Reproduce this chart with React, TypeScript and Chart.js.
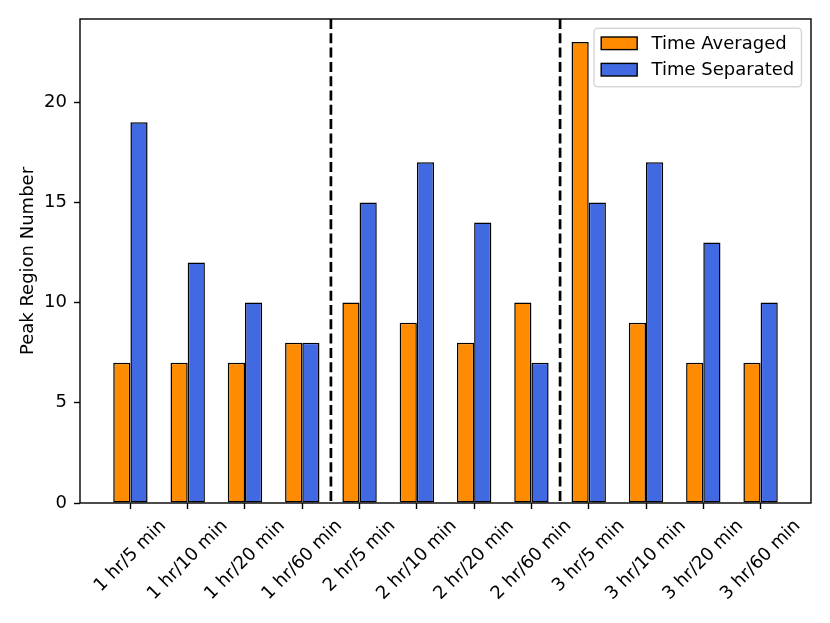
import React, { useEffect, useRef } from "react";
import { Chart, registerables } from "chart.js";

Chart.register(...registerables);

const categories = [
  "1 hr/5 min",
  "1 hr/10 min",
  "1 hr/20 min",
  "1 hr/60 min",
  "2 hr/5 min",
  "2 hr/10 min",
  "2 hr/20 min",
  "2 hr/60 min",
  "3 hr/5 min",
  "3 hr/10 min",
  "3 hr/20 min",
  "3 hr/60 min",
];
const timeAveraged = [7, 7, 7, 8, 10, 9, 8, 10, 23, 9, 7, 7];
const timeSeparated = [19, 12, 10, 8, 15, 17, 14, 7, 15, 17, 13, 10];
const yTickValues = [0, 5, 10, 15, 20];
const groupDividers = [3.5, 7.5];
const seriesNames = ["Time Averaged", "Time Separated"];
const seriesColors = ["#ff8c00", "#4169e1"];
const yTitle = "Peak Region Number";

const FONT_FAMILY = '"DejaVu Sans", sans-serif';
const FONT_SIZE = 18;

export default function App() {
  const canvasRef = useRef<HTMLCanvasElement | null>(null);

  useEffect(() => {
    const canvas = canvasRef.current;
    if (!canvas) return;

    const n = categories.length;
    const barSpan = 0.3;
    const dataMin = -barSpan;
    const dataMax = n - 1 + barSpan;
    const margin = (dataMax - dataMin) * 0.05;
    const yMax = Math.max(...timeAveraged, ...timeSeparated) * 1.05;

    const decorPlugin = {
      id: "decor",
      afterDatasetsDraw(chart: any) {
        const { ctx, chartArea, scales } = chart;
        const xs = scales.x;
        ctx.save();
        // dashed dividers
        ctx.strokeStyle = "#000";
        ctx.lineWidth = 2.7;
        ctx.setLineDash([10, 4.3]);
        for (const d of groupDividers) {
          const px = xs.getPixelForValue(d);
          ctx.beginPath();
          ctx.moveTo(px, chartArea.top);
          ctx.lineTo(px, chartArea.bottom);
          ctx.stroke();
        }
        ctx.setLineDash([]);
        // frame
        ctx.lineWidth = 1.4;
        ctx.strokeRect(
          chartArea.left,
          chartArea.top,
          chartArea.right - chartArea.left,
          chartArea.bottom - chartArea.top
        );

        // x tick labels (rotated 45°, centred on tick)
        ctx.font = `${FONT_SIZE}px ${FONT_FAMILY}`;
        ctx.fillStyle = "#000";
        ctx.textAlign = "center";
        ctx.textBaseline = "middle";
        const h = FONT_SIZE * 1.164;
        categories.forEach((lab, i) => {
          const px = xs.getPixelForValue(i);
          const w = ctx.measureText(lab).width;
          const cy = chartArea.bottom + 6.3 + 6.3 + ((w + h) * Math.SQRT1_2) / 2;
          ctx.save();
          ctx.translate(px, cy);
          ctx.rotate(-Math.PI / 4);
          ctx.fillText(lab, 0, 0);
          ctx.restore();
        });

        // legend
        const pad = 0.4 * FONT_SIZE;
        const handleLen = 2 * FONT_SIZE;
        const handleH = 0.7 * FONT_SIZE;
        const textPad = 0.8 * FONT_SIZE;
        const maxW = Math.max(...seriesNames.map((s) => ctx.measureText(s).width));
        const boxW = pad + handleLen + textPad + maxW + pad;
        const boxH = 58.4;
        const boxRight = chartArea.right - 9.5;
        const boxTop = chartArea.top + 9.3;
        const boxLeft = boxRight - boxW;
        ctx.beginPath();
        (ctx as any).roundRect(boxLeft, boxTop, boxW, boxH, 3.6);
        ctx.fillStyle = "rgba(255,255,255,0.8)";
        ctx.fill();
        ctx.strokeStyle = "rgba(204,204,204,0.8)";
        ctx.lineWidth = 1.4;
        ctx.stroke();
        const rowCenters = [boxTop + 15, boxTop + 41.4];
        seriesNames.forEach((name, i) => {
          const cy = rowCenters[i];
          const hx = boxLeft + pad;
          ctx.fillStyle = seriesColors[i];
          ctx.fillRect(hx, cy - handleH / 2, handleLen, handleH);
          ctx.strokeStyle = "#000";
          ctx.lineWidth = 1.4;
          ctx.strokeRect(hx, cy - handleH / 2, handleLen, handleH);
          ctx.fillStyle = "#000";
          ctx.textAlign = "left";
          ctx.textBaseline = "middle";
          ctx.fillText(name, hx + handleLen + textPad, cy + 1);
        });
        ctx.restore();
      },
    };

    const chart = new Chart(canvas, {
      type: "bar",
      data: {
        datasets: [
          {
            label: seriesNames[0],
            data: timeAveraged.map((v, i) => ({ x: i, y: v })),
            backgroundColor: seriesColors[0],
            borderColor: "#000",
            borderWidth: 1.5,
            borderSkipped: false,
          },
          {
            label: seriesNames[1],
            data: timeSeparated.map((v, i) => ({ x: i, y: v })),
            backgroundColor: seriesColors[1],
            borderColor: "#000",
            borderWidth: 1.5,
            borderSkipped: false,
          },
        ],
      },
      options: {
        responsive: false,
        animation: false,
        devicePixelRatio: 1,
        barPercentage: 1.0,
        categoryPercentage: 2 * barSpan,
        layout: { padding: { left: 0, right: 19, top: 19, bottom: 0 } },
        plugins: {
          legend: { display: false },
          tooltip: { enabled: false },
        },
        font: { family: FONT_FAMILY, size: FONT_SIZE },
        scales: {
          x: {
            type: "linear",
            min: dataMin - margin,
            max: dataMax + margin,
            offset: false,
            grid: {
              offset: false,
              drawOnChartArea: false,
              drawTicks: true,
              tickLength: 6,
              tickWidth: 1.4,
              tickColor: "#000",
            },
            border: { display: false },
            ticks: {
              color: "rgba(0,0,0,0)",
              maxRotation: 0,
              autoSkip: false,
              font: { family: FONT_FAMILY, size: FONT_SIZE },
              callback: (v: any) => categories[v as number] ?? "",
            },
            afterBuildTicks: (scale: any) => {
              scale.ticks = categories.map((_, i) => ({ value: i }));
            },
            afterFit: (scale: any) => {
              scale.height = 120;
            },
          },
          y: {
            type: "linear",
            min: 0,
            max: yMax,
            grid: {
              drawOnChartArea: false,
              drawTicks: true,
              tickLength: 6,
              tickWidth: 1.4,
              tickColor: "#000",
            },
            border: { display: false },
            ticks: {
              color: "#000",
              padding: 7,
              font: { family: FONT_FAMILY, size: FONT_SIZE },
            },
            afterBuildTicks: (scale: any) => {
              scale.ticks = yTickValues.map((v) => ({ value: v }));
            },
            afterFit: (scale: any) => {
              scale.width = 80;
            },
            title: {
              display: true,
              text: yTitle,
              color: "#000",
              font: { family: FONT_FAMILY, size: FONT_SIZE, lineHeight: 1.2 },
              padding: { top: 17.5, bottom: 0 },
            },
          },
        },
      } as any,
      plugins: [decorPlugin],
    });

    return () => {
      chart.destroy();
    };
  }, []);

  return (
    <div
      style={{
        position: "fixed",
        left: 0,
        top: 0,
        width: 830,
        height: 623,
        background: "#fff",
      }}
    >
      <canvas
        ref={canvasRef}
        width={830}
        height={623}
        style={{ display: "block", width: 830, height: 623 }}
      />
    </div>
  );
}
